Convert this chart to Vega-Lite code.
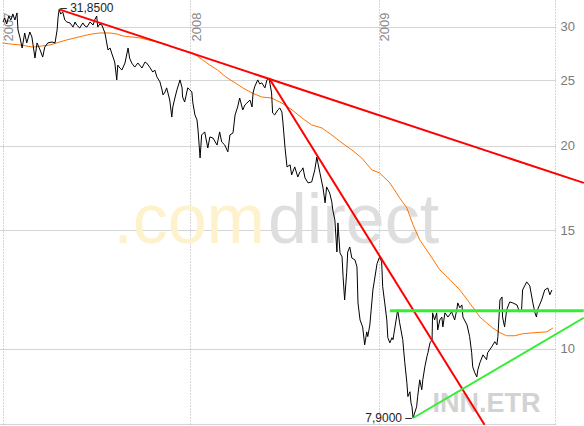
{
  "$schema": "https://vega.github.io/schema/vega-lite/v6.json",
  "width": 555,
  "height": 424,
  "autosize": {"type": "none"},
  "padding": {"left": 0, "top": 0, "right": 29, "bottom": 2},
  "background": "white",
  "config": {"view": {"stroke": null}, "font": "Liberation Sans"},
  "datasets": {
    "price": [
      {"date":"2007-01-02","value":30.51},{"date":"2007-01-05","value":30.93},{"date":"2007-01-09","value":30.30},{"date":"2007-01-13","value":31.14},{"date":"2007-01-17","value":30.72},{"date":"2007-01-21","value":31.36},{"date":"2007-01-25","value":30.72},{"date":"2007-01-29","value":31.47},{"date":"2007-01-31","value":29.69},{"date":"2007-02-04","value":28.90},{"date":"2007-02-08","value":27.92},{"date":"2007-02-13","value":29.39},{"date":"2007-02-17","value":28.41},{"date":"2007-02-23","value":29.49},{"date":"2007-02-27","value":28.99},{"date":"2007-03-05","value":26.98},{"date":"2007-03-09","value":28.41},{"date":"2007-03-15","value":27.73},{"date":"2007-03-20","value":27.07},{"date":"2007-03-24","value":28.01},{"date":"2007-03-30","value":28.41},{"date":"2007-04-07","value":28.50},{"date":"2007-04-13","value":28.41},{"date":"2007-04-17","value":29.69},{"date":"2007-04-19","value":31.03},{"date":"2007-04-21","value":31.85},{"date":"2007-04-24","value":31.36},{"date":"2007-04-28","value":31.57},{"date":"2007-05-02","value":30.72},{"date":"2007-05-06","value":30.51},{"date":"2007-05-12","value":30.41},{"date":"2007-05-18","value":29.99},{"date":"2007-05-22","value":30.51},{"date":"2007-05-25","value":30.20},{"date":"2007-05-31","value":29.89},{"date":"2007-06-06","value":30.41},{"date":"2007-06-10","value":30.10},{"date":"2007-06-14","value":29.99},{"date":"2007-06-20","value":30.51},{"date":"2007-06-26","value":30.20},{"date":"2007-06-29","value":30.72},{"date":"2007-07-03","value":31.14},{"date":"2007-07-05","value":29.99},{"date":"2007-07-09","value":30.30},{"date":"2007-07-13","value":30.20},{"date":"2007-07-19","value":29.39},{"date":"2007-07-25","value":27.73},{"date":"2007-07-29","value":27.92},{"date":"2007-08-01","value":27.45},{"date":"2007-08-07","value":26.62},{"date":"2007-08-11","value":25.04},{"date":"2007-08-13","value":26.34},{"date":"2007-08-17","value":26.08},{"date":"2007-08-21","value":25.90},{"date":"2007-08-27","value":26.53},{"date":"2007-09-02","value":27.92},{"date":"2007-09-05","value":26.98},{"date":"2007-09-09","value":26.53},{"date":"2007-09-15","value":26.16},{"date":"2007-09-21","value":26.53},{"date":"2007-09-29","value":26.08},{"date":"2007-10-05","value":26.62},{"date":"2007-10-08","value":26.53},{"date":"2007-10-14","value":26.16},{"date":"2007-10-20","value":25.72},{"date":"2007-10-24","value":25.90},{"date":"2007-10-28","value":25.30},{"date":"2007-11-03","value":24.87},{"date":"2007-11-07","value":24.20},{"date":"2007-11-09","value":23.79},{"date":"2007-11-13","value":24.04},{"date":"2007-11-16","value":24.37},{"date":"2007-11-22","value":23.38},{"date":"2007-11-26","value":22.06},{"date":"2007-11-28","value":22.83},{"date":"2007-12-02","value":23.54},{"date":"2007-12-06","value":24.20},{"date":"2007-12-12","value":25.04},{"date":"2007-12-16","value":24.37},{"date":"2007-12-17","value":23.62},{"date":"2007-12-21","value":23.22},{"date":"2007-12-27","value":24.37},{"date":"2007-12-31","value":24.20},
      {"date":"2008-01-04","value":24.04},{"date":"2008-01-06","value":23.14},{"date":"2008-01-10","value":22.22},{"date":"2008-01-14","value":21.84},{"date":"2008-01-16","value":21.11},{"date":"2008-01-20","value":19.19},{"date":"2008-01-23","value":20.75},{"date":"2008-01-29","value":20.97},{"date":"2008-02-04","value":19.85},{"date":"2008-02-08","value":20.61},{"date":"2008-02-14","value":20.54},{"date":"2008-02-22","value":20.05},{"date":"2008-02-27","value":20.97},{"date":"2008-03-02","value":20.26},{"date":"2008-03-08","value":20.05},{"date":"2008-03-14","value":19.59},{"date":"2008-03-18","value":20.75},{"date":"2008-03-24","value":20.90},{"date":"2008-03-28","value":22.22},{"date":"2008-04-02","value":22.83},{"date":"2008-04-06","value":23.54},{"date":"2008-04-12","value":22.60},{"date":"2008-04-16","value":22.98},{"date":"2008-04-20","value":23.14},{"date":"2008-04-26","value":23.38},{"date":"2008-04-30","value":22.83},{"date":"2008-05-02","value":23.95},{"date":"2008-05-05","value":24.45},{"date":"2008-05-11","value":25.04},{"date":"2008-05-15","value":24.70},{"date":"2008-05-19","value":24.79},{"date":"2008-05-25","value":24.37},{"date":"2008-05-29","value":25.04},{"date":"2008-06-02","value":25.20},{"date":"2008-06-07","value":23.95},{"date":"2008-06-09","value":22.37},{"date":"2008-06-13","value":22.22},{"date":"2008-06-19","value":22.60},{"date":"2008-06-23","value":22.75},{"date":"2008-06-27","value":22.45},{"date":"2008-06-29","value":21.69},{"date":"2008-07-03","value":19.91},{"date":"2008-07-07","value":18.61},{"date":"2008-07-13","value":18.74},{"date":"2008-07-16","value":18.11},{"date":"2008-07-22","value":18.61},{"date":"2008-07-28","value":17.98},{"date":"2008-08-01","value":18.29},{"date":"2008-08-05","value":18.42},{"date":"2008-08-07","value":18.55},{"date":"2008-08-11","value":17.92},{"date":"2008-08-17","value":17.62},{"date":"2008-08-24","value":17.68},{"date":"2008-08-30","value":18.42},{"date":"2008-09-03","value":19.25},{"date":"2008-09-05","value":18.87},{"date":"2008-09-09","value":18.23},{"date":"2008-09-15","value":17.32},{"date":"2008-09-19","value":16.46},{"date":"2008-09-22","value":17.38},{"date":"2008-09-28","value":17.02},{"date":"2008-10-02","value":16.52},{"date":"2008-10-04","value":16.07},{"date":"2008-10-08","value":15.53},{"date":"2008-10-12","value":13.92},{"date":"2008-10-14","value":15.37},{"date":"2008-10-18","value":13.88},{"date":"2008-10-22","value":13.69},{"date":"2008-10-24","value":12.79},{"date":"2008-10-27","value":11.82},{"date":"2008-10-31","value":12.97},{"date":"2008-11-02","value":13.92},{"date":"2008-11-06","value":14.16},{"date":"2008-11-10","value":13.64},{"date":"2008-11-16","value":13.55},{"date":"2008-11-20","value":13.23},{"date":"2008-11-22","value":11.70},{"date":"2008-11-26","value":11.04},{"date":"2008-12-01","value":10.78},{"date":"2008-12-05","value":10.14},{"date":"2008-12-09","value":10.60},{"date":"2008-12-11","value":10.43},{"date":"2008-12-15","value":10.85},{"date":"2008-12-21","value":12.23},{"date":"2008-12-29","value":13.37},
      {"date":"2009-01-03","value":13.69},{"date":"2009-01-07","value":13.46},{"date":"2009-01-09","value":12.36},{"date":"2009-01-13","value":11.70},{"date":"2009-01-17","value":11.04},{"date":"2009-01-19","value":10.39},{"date":"2009-01-23","value":10.21},{"date":"2009-01-27","value":10.39},{"date":"2009-01-29","value":10.32},{"date":"2009-02-05","value":11.15},{"date":"2009-02-07","value":11.43},{"date":"2009-02-11","value":10.93},{"date":"2009-02-17","value":10.32},{"date":"2009-02-21","value":9.54},{"date":"2009-02-25","value":8.91},{"date":"2009-02-27","value":8.50},{"date":"2009-03-03","value":8.64},{"date":"2009-03-05","value":8.32},{"date":"2009-03-07","value":8.21},{"date":"2009-03-09","value":7.90},{"date":"2009-03-16","value":8.21},{"date":"2009-03-18","value":8.50},{"date":"2009-03-22","value":9.00},{"date":"2009-03-26","value":8.70},{"date":"2009-03-28","value":9.00},{"date":"2009-04-01","value":9.41},{"date":"2009-04-05","value":9.74},{"date":"2009-04-07","value":9.87},{"date":"2009-04-11","value":10.21},{"date":"2009-04-15","value":10.32},{"date":"2009-04-16","value":11.31},{"date":"2009-04-20","value":11.04},{"date":"2009-04-24","value":11.31},{"date":"2009-04-26","value":10.67},{"date":"2009-04-30","value":11.04},{"date":"2009-05-04","value":11.15},{"date":"2009-05-06","value":10.78},{"date":"2009-05-10","value":11.31},{"date":"2009-05-16","value":11.15},{"date":"2009-05-23","value":11.35},{"date":"2009-05-29","value":11.04},{"date":"2009-06-02","value":11.43},{"date":"2009-06-04","value":11.70},{"date":"2009-06-08","value":11.51},{"date":"2009-06-12","value":11.62},{"date":"2009-06-14","value":11.15},{"date":"2009-06-22","value":10.85},{"date":"2009-06-27","value":10.43},{"date":"2009-07-01","value":9.87},{"date":"2009-07-03","value":9.41},{"date":"2009-07-07","value":9.22},{"date":"2009-07-11","value":9.09},{"date":"2009-07-13","value":9.31},{"date":"2009-07-17","value":9.54},{"date":"2009-07-23","value":9.80},{"date":"2009-07-30","value":9.64},{"date":"2009-08-01","value":9.87},{"date":"2009-08-09","value":10.07},{"date":"2009-08-15","value":10.25},{"date":"2009-08-19","value":10.14},{"date":"2009-08-21","value":10.43},{"date":"2009-08-25","value":11.82},{"date":"2009-08-29","value":11.94},{"date":"2009-08-30","value":11.15},{"date":"2009-09-03","value":10.78},{"date":"2009-09-07","value":11.43},{"date":"2009-09-13","value":11.74},{"date":"2009-09-19","value":11.70},{"date":"2009-09-27","value":11.62},{"date":"2009-10-02","value":11.35},{"date":"2009-10-06","value":11.43},{"date":"2009-10-08","value":12.23},{"date":"2009-10-12","value":12.40},{"date":"2009-10-16","value":12.57},{"date":"2009-10-22","value":12.40},{"date":"2009-10-28","value":11.70},{"date":"2009-11-01","value":11.31},{"date":"2009-11-04","value":11.15},{"date":"2009-11-06","value":11.43},{"date":"2009-11-10","value":11.62},{"date":"2009-11-14","value":11.82},{"date":"2009-11-20","value":12.23},{"date":"2009-11-26","value":12.31},{"date":"2009-11-30","value":12.03},{"date":"2009-12-04","value":12.23}
    ],
    "ma": [
      {"date":"2007-01-01","value":28.41},{"date":"2007-01-15","value":28.31},{"date":"2007-02-04","value":28.21},{"date":"2007-03-01","value":28.01},{"date":"2007-03-18","value":28.11},{"date":"2007-04-03","value":28.21},{"date":"2007-04-22","value":28.50},{"date":"2007-05-06","value":28.70},{"date":"2007-05-22","value":28.90},{"date":"2007-06-06","value":29.09},{"date":"2007-06-24","value":29.29},{"date":"2007-07-09","value":29.39},{"date":"2007-07-29","value":29.39},{"date":"2007-08-11","value":29.29},{"date":"2007-08-23","value":29.09},{"date":"2007-09-09","value":28.99},{"date":"2007-09-25","value":28.90},{"date":"2007-10-11","value":28.70},{"date":"2007-10-28","value":28.50},{"date":"2007-11-13","value":28.31},{"date":"2007-11-28","value":28.01},{"date":"2007-12-17","value":27.73},{"date":"2008-01-06","value":27.45},{"date":"2008-01-25","value":26.80},{"date":"2008-02-08","value":26.34},{"date":"2008-02-23","value":25.90},{"date":"2008-03-10","value":25.30},{"date":"2008-03-28","value":24.79},{"date":"2008-04-12","value":24.37},{"date":"2008-04-30","value":23.95},{"date":"2008-05-19","value":23.62},{"date":"2008-06-07","value":23.54},{"date":"2008-06-27","value":23.14},{"date":"2008-07-17","value":22.60},{"date":"2008-08-05","value":21.99},{"date":"2008-08-24","value":21.47},{"date":"2008-09-13","value":21.25},{"date":"2008-10-02","value":20.75},{"date":"2008-10-22","value":20.19},{"date":"2008-11-10","value":19.72},{"date":"2008-11-29","value":19.19},{"date":"2008-12-19","value":18.42},{"date":"2009-01-03","value":18.23},{"date":"2009-01-23","value":17.62},{"date":"2009-02-11","value":16.74},{"date":"2009-02-25","value":16.18},{"date":"2009-03-09","value":15.27},{"date":"2009-03-22","value":14.51},{"date":"2009-04-11","value":13.78},{"date":"2009-04-30","value":13.10},{"date":"2009-05-20","value":12.66},{"date":"2009-06-08","value":12.23},{"date":"2009-06-27","value":11.70},{"date":"2009-07-17","value":11.15},{"date":"2009-07-30","value":10.93},{"date":"2009-08-11","value":10.74},{"date":"2009-08-25","value":10.57},{"date":"2009-09-07","value":10.46},{"date":"2009-09-23","value":10.46},{"date":"2009-10-08","value":10.53},{"date":"2009-11-01","value":10.57},{"date":"2009-11-24","value":10.60},{"date":"2009-12-06","value":10.74}
    ],
    "trend": [
      {"line":"r1","date":"2007-04-21","value":31.85},{"line":"r1","date":"2010-02-04","value":17.62},
      {"line":"r2","date":"2008-06-02","value":25.20},{"line":"r2","date":"2009-07-26","value":7.72},
      {"line":"g1","date":"2009-01-23","value":11.39},{"line":"g1","date":"2010-02-04","value":11.39},
      {"line":"g2","date":"2009-03-09","value":7.90},{"line":"g2","date":"2010-02-04","value":11.12}
    ],
    "extremes": [
      {"kind":"max","date":"2007-04-21","value":31.85,"label":"– 31,8500"},
      {"kind":"min","date":"2009-03-09","value":7.90,"label":"7,9000 –"}
    ],
    "watermark": [
      {"t":".com"},{"t":"direct"},{"t":"INN.ETR"}
    ]
  },
  "layer": [
    {
      "data": {"name": "watermark"},
      "transform": [{"filter": "datum.t === '.com'"}],
      "mark": {"type": "text", "align": "right", "baseline": "alphabetic", "fontSize": 70, "color": "#fdf2cc", "dx": -1},
      "encoding": {
        "x": {
          "datum": {"year":2008,"month":5,"date":27,"utc":true}, "type": "temporal",
          "scale": {"type": "utc", "domain": [{"year":2006,"month":12,"date":27,"utc":true},{"year":2009,"month":12,"date":10,"utc":true}], "nice": false},
          "axis": {
            "orient": "top",
            "values": [{"year":2007,"month":1,"date":1,"utc":true},{"year":2008,"month":1,"date":1,"utc":true},{"year":2009,"month":1,"date":1,"utc":true}],
            "labelExpr": "utcFormat(datum.value, '%Y')",
            "labelAngle": 270, "labelAlign": "right", "labelBaseline": "top", "labelPadding": -12,
            "labelColor": "#8a8a8a", "labelFontSize": 13, "labelFlush": false, "labelOverlap": false,
            "ticks": false, "tickSize": 0, "domain": false,
            "grid": true, "gridDash": [1, 2], "gridColor": "#ababab", "title": null
          }
        },
        "y": {
          "datum": 14.36, "type": "quantitative",
          "scale": {"type": "log", "domain": [7.74, 32.89], "nice": false},
          "axis": {
            "orient": "right",
            "values": [7.74, 10, 15, 20, 25, 30],
            "labelExpr": "datum.value < 9 ? '' : format(datum.value, 'd')",
            "grid": true, "gridDash": [1, 1], "gridColor": "#ababab",
            "domain": true, "domainDash": [1, 2], "domainColor": "#ababab",
            "ticks": false, "labelColor": "#7a7a7a", "labelFontSize": 13, "labelPadding": 5, "title": null
          }
        },
        "text": {"field": "t"}
      }
    },
    {
      "data": {"name": "watermark"},
      "transform": [{"filter": "datum.t === 'direct'"}],
      "mark": {"type": "text", "align": "left", "baseline": "alphabetic", "fontSize": 70, "color": "#dedede", "dx": 2},
      "encoding": {
        "x": {"datum": {"year":2008,"month":5,"date":27,"utc":true}, "type": "temporal"},
        "y": {"datum": 14.36, "type": "quantitative"},
        "text": {"field": "t"}
      }
    },
    {
      "data": {"name": "watermark"},
      "transform": [{"filter": "datum.t === 'INN.ETR'"}],
      "mark": {"type": "text", "align": "left", "baseline": "alphabetic", "fontSize": 27, "fontWeight": "bold", "color": "#d2d2d2"},
      "encoding": {
        "x": {"datum": {"year":2009,"month":4,"date":16,"utc":true}, "type": "temporal"},
        "y": {"datum": 8.05, "type": "quantitative"},
        "text": {"field": "t"}
      }
    },
    {
      "data": {"name": "ma"},
      "mark": {"type": "line", "color": "#ff7300", "strokeWidth": 1},
      "encoding": {
        "x": {"field": "date", "type": "temporal"},
        "y": {"field": "value", "type": "quantitative"}
      }
    },
    {
      "data": {"name": "price"},
      "mark": {"type": "line", "color": "#000000", "strokeWidth": 1},
      "encoding": {
        "x": {"field": "date", "type": "temporal"},
        "y": {"field": "value", "type": "quantitative"}
      }
    },
    {
      "data": {"name": "trend"},
      "transform": [{"filter": "datum.line === 'r1' || datum.line === 'r2'"}],
      "mark": {"type": "line", "color": "#ff0000", "strokeWidth": 2},
      "encoding": {
        "x": {"field": "date", "type": "temporal"},
        "y": {"field": "value", "type": "quantitative"},
        "detail": {"field": "line"}
      }
    },
    {
      "data": {"name": "trend"},
      "transform": [{"filter": "datum.line === 'g1'"}],
      "mark": {"type": "line", "color": "#33ee33", "strokeWidth": 3},
      "encoding": {
        "x": {"field": "date", "type": "temporal"},
        "y": {"field": "value", "type": "quantitative"}
      }
    },
    {
      "data": {"name": "trend"},
      "transform": [{"filter": "datum.line === 'g2'"}],
      "mark": {"type": "line", "color": "#33ee33", "strokeWidth": 2},
      "encoding": {
        "x": {"field": "date", "type": "temporal"},
        "y": {"field": "value", "type": "quantitative"}
      }
    },
    {
      "data": {"name": "extremes"},
      "transform": [{"filter": "datum.kind === 'max'"}],
      "mark": {"type": "text", "align": "left", "baseline": "middle", "fontSize": 12, "color": "#222222", "dx": 1, "dy": -1},
      "encoding": {
        "x": {"field": "date", "type": "temporal"},
        "y": {"field": "value", "type": "quantitative"},
        "text": {"field": "label"}
      }
    },
    {
      "data": {"name": "extremes"},
      "transform": [{"filter": "datum.kind === 'min'"}],
      "mark": {"type": "text", "align": "right", "baseline": "middle", "fontSize": 12, "color": "#222222", "dx": -1},
      "encoding": {
        "x": {"field": "date", "type": "temporal"},
        "y": {"field": "value", "type": "quantitative"},
        "text": {"field": "label"}
      }
    }
  ]
}
